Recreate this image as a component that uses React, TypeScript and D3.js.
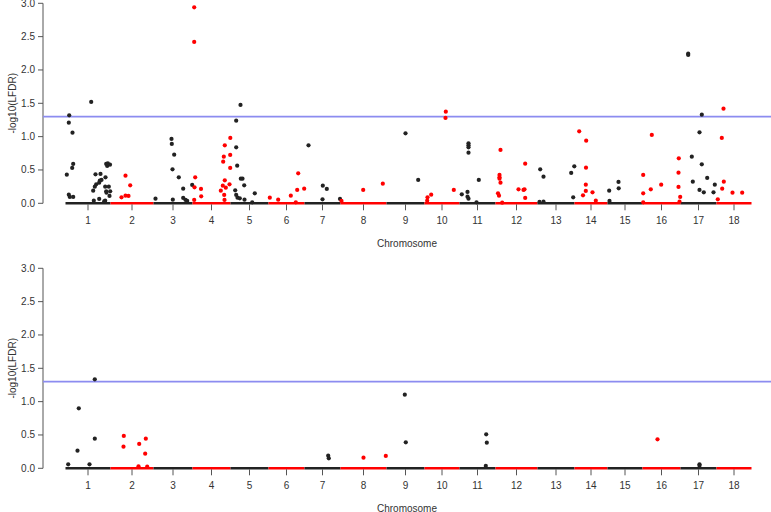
import * as d3 from 'd3';

// chromosome names and their (relative) lengths along the x axis
const chromosomes = ['1', '2', '3', '4', '5', '6', '7', '8', '9', '10', '11', '12', '13', '14', '15', '16', '17', '18'];
const chrLengths = [45, 43, 39, 38, 38, 36, 36, 46, 38, 35, 36, 42, 37, 33, 35, 38, 36, 35];

const yTicks = [0, 0.5, 1, 1.5, 2, 2.5, 3];
const threshold = 1.3; // -log10(0.05)

// [chromosome, position within chromosome, -log10(LFDR)]
const topHits: [number, number, number][] = [
  [1, 25.7, 1.52], [1, 3.7, 1.32], [1, 3.3, 1.21], [1, 7, 1.06], [1, 7.7, 0.59], [1, 6.7, 0.53],
  [1, 1.3, 0.43], [1, 3.3, 0.13], [1, 4.3, 0.095], [1, 7.7, 0.095], [1, 30, 0.435], [1, 35, 0.44],
  [1, 30.7, 0.285], [1, 29.3, 0.25], [1, 34.3, 0.34], [1, 36, 0.35], [1, 40, 0.39], [1, 40.7, 0.59],
  [1, 41.7, 0.56], [1, 44.5, 0.58], [1, 42.3, 0.6], [1, 39.7, 0.25], [1, 43.3, 0.25], [1, 27.7, 0.19],
  [1, 40.7, 0.18], [1, 44.7, 0.18], [1, 44, 0.11], [1, 33.7, 0.065], [1, 28.3, 0.04], [1, 39.7, 0.04],
  [1, 33.7, 0.31], [1, 41, 0.16], [1, 38.7, 0.03],
  [2, 15, 0.415], [2, 19.7, 0.27], [2, 11, 0.09], [2, 15, 0.115], [2, 18, 0.11],
  [3, 18, 0.965], [3, 18.3, 0.89], [3, 20.7, 0.73], [3, 19, 0.51], [3, 25.3, 0.39], [3, 29.7, 0.22],
  [3, 2, 0.07], [3, 19.3, 0.055], [3, 29.7, 0.08], [3, 32, 0.05], [3, 33.7, 0.035], [3, 38.7, 0.275],
  [4, 1.7, 2.94], [4, 1.7, 2.42], [4, 2.7, 0.39], [4, 2, 0.24], [4, 1.7, 0.05], [4, 8.5, 0.215],
  [4, 8.7, 0.105], [4, 37.8, 0.98], [4, 32.3, 0.87], [4, 31.3, 0.7], [4, 30.7, 0.625], [4, 37.7, 0.725],
  [4, 37.7, 0.53], [4, 32.3, 0.345], [4, 37, 0.285], [4, 33.3, 0.235], [4, 28.3, 0.19], [4, 30.3, 0.265],
  [4, 31.7, 0.125], [4, 32, 0.05],
  [5, 10, 1.475], [5, 5.7, 1.24], [5, 5.7, 0.84], [5, 6.7, 0.565], [5, 10.3, 0.37], [5, 12, 0.37],
  [5, 13.7, 0.27], [5, 4.7, 0.195], [5, 5.7, 0.125], [5, 7, 0.085], [5, 9.3, 0.075], [5, 14, 0.055],
  [5, 24.3, 0.15], [5, 21.7, 0.015],
  [6, 1.3, 0.085], [6, 9.7, 0.055], [6, 22.3, 0.115], [6, 28.7, 0.2], [6, 29.7, 0.45], [6, 35.7, 0.22],
  [6, 27.3, 0.015],
  [7, 4, 0.87], [7, 18.3, 0.265], [7, 22.3, 0.215], [7, 18, 0.06], [7, 35.5, 0.065],
  [8, 1, 0.035], [8, 22.7, 0.2], [8, 42.3, 0.295],
  [9, 19, 1.05], [9, 31.7, 0.35],
  [10, 21.3, 1.375], [10, 21, 1.28], [10, 3, 0.09], [10, 2.7, 0.04], [10, 6.7, 0.13], [10, 29.3, 0.2],
  [11, 2.3, 0.135], [11, 9, 0.9], [11, 9, 0.87], [11, 9, 0.84], [11, 9, 0.76], [11, 8, 0.17],
  [11, 8, 0.1], [11, 9, 0.07], [11, 19.3, 0.35], [11, 17, 0.015],
  [12, 5, 0.8], [12, 4, 0.425], [12, 4, 0.39], [12, 4, 0.37], [12, 5, 0.31], [12, 2.5, 0.15],
  [12, 3.5, 0.115], [12, 6.7, 0.01], [12, 23, 0.21], [12, 28, 0.2], [12, 29, 0.21], [12, 29.7, 0.595],
  [12, 29.7, 0.08],
  [13, 2.7, 0.51], [13, 6, 0.4], [13, 2, 0.02], [13, 6, 0.025], [13, 33.7, 0.455], [13, 36.8, 0.555],
  [13, 35.7, 0.09],
  [14, 4.7, 1.08], [14, 11.7, 0.94], [14, 11.5, 0.535], [14, 11.3, 0.28], [14, 11.3, 0.185],
  [14, 8.5, 0.12], [14, 18, 0.165], [14, 21.3, 0.04],
  [15, 1.7, 0.19], [15, 2, 0.035], [15, 11, 0.32], [15, 11.2, 0.225],
  [16, 0.7, 0.425], [16, 0.7, 0.15], [16, 0.7, 0.015], [16, 9.3, 1.025], [16, 8.3, 0.21], [16, 18.7, 0.28],
  [16, 36.3, 0.675], [16, 36, 0.46], [16, 36, 0.245], [16, 37.7, 0.095], [16, 37, 0.025],
  [17, 7.7, 2.245], [17, 7.7, 2.225], [17, 21.3, 1.33], [17, 19, 1.065], [17, 11.3, 0.7], [17, 21.3, 0.585],
  [17, 26.7, 0.38], [17, 12.3, 0.325], [17, 34.3, 0.28], [17, 19, 0.2], [17, 23.3, 0.165], [17, 33, 0.165],
  [18, 7, 1.42], [18, 5.3, 0.98], [18, 7.3, 0.325], [18, 5.7, 0.22], [18, 1.3, 0.06], [18, 16, 0.16],
  [18, 25.7, 0.16],
];

const bottomHits: [number, number, number][] = [
  [1, 29.3, 1.335], [1, 13.3, 0.9], [1, 29.3, 0.445], [1, 12, 0.265], [1, 2.7, 0.06], [1, 24, 0.06],
  [2, 13.3, 0.485], [2, 13, 0.325], [2, 28.7, 0.365], [2, 35.3, 0.445], [2, 34.7, 0.22], [2, 28, 0.03],
  [2, 36.7, 0.025],
  [7, 23.7, 0.19], [7, 24.3, 0.15],
  [8, 23, 0.16], [8, 45.3, 0.185],
  [9, 18.3, 1.105], [9, 19.3, 0.39],
  [11, 26.7, 0.51], [11, 27.3, 0.385], [11, 26.3, 0.035],
  [16, 15, 0.435],
  [17, 19, 0.06], [17, 19, 0.04],
];

const W = 771;
const H = 512;
const font = '"Liberation Sans", Arial, sans-serif';
const textColor = '#333';

const offsets = [0, ...d3.cumsum(chrLengths)];
const total = offsets[offsets.length - 1];
const x = d3.scaleLinear().domain([0, total]).range([65.5, 751.5]);
const chrColor = (i: number) => (i % 2 === 0 ? '#222' : '#ff0000');
const fmt = d3.format('.1f');

function Panel({ base, hits }: { base: number; hits: [number, number, number][] }) {
  const y = d3.scaleLinear().domain([0, 3]).range([base, base - 200]);
  const y0 = y(0);
  const axisX = 43;
  return (
    <g>
      {/* y axis */}
      <line x1={axisX} x2={axisX} y1={y(0)} y2={y(3)} stroke="#555" />
      {yTicks.map((t) => (
        <g key={t}>
          <line x1={axisX - 5} x2={axisX} y1={y(t)} y2={y(t)} stroke="#555" />
          <text x={axisX - 8} y={y(t)} dy="0.35em" textAnchor="end" fontSize={10} fill={textColor} fontFamily={font}>
            {fmt(t)}
          </text>
        </g>
      ))}
      <text
        transform={`translate(12,${(y(0) + y(3)) / 2}) rotate(-90)`}
        textAnchor="middle"
        dy="0.35em"
        fontSize={10}
        fill={textColor}
        fontFamily={font}
      >
        -log10(LFDR)
      </text>

      {/* significance threshold */}
      <line x1={axisX} x2={W} y1={y(threshold)} y2={y(threshold)} stroke="#8c8cf0" strokeWidth={1.6} />

      {/* chromosome segments and ticks */}
      {chromosomes.map((c, i) => {
        const mid = x((offsets[i] + offsets[i + 1]) / 2);
        return (
          <g key={c}>
            <line x1={x(offsets[i])} x2={x(offsets[i + 1])} y1={y0} y2={y0} stroke={chrColor(i)} strokeWidth={2.5} />
            <line x1={mid} x2={mid} y1={y0 + 1} y2={y0 + 7} stroke="#555" />
            <text x={mid} y={y0 + 17} dy="0.35em" textAnchor="middle" fontSize={10} fill={textColor} fontFamily={font}>
              {c}
            </text>
          </g>
        );
      })}
      <text x={(axisX + W) / 2} y={y0 + 40} dy="0.35em" textAnchor="middle" fontSize={10} fill={textColor} fontFamily={font}>
        Chromosome
      </text>

      {/* points */}
      {hits.map(([chr, pos, v], k) => (
        <circle key={k} cx={x(offsets[chr - 1] + pos)} cy={y(v)} r={2.1} fill={chrColor(chr - 1)} />
      ))}
    </g>
  );
}

export default function App() {
  return (
    <svg width={W} height={H} style={{ position: 'absolute', left: 0, top: 0, background: '#fff' }}>
      <Panel base={203.3} hits={topHits} />
      <Panel base={468.3} hits={bottomHits} />
    </svg>
  );
}
